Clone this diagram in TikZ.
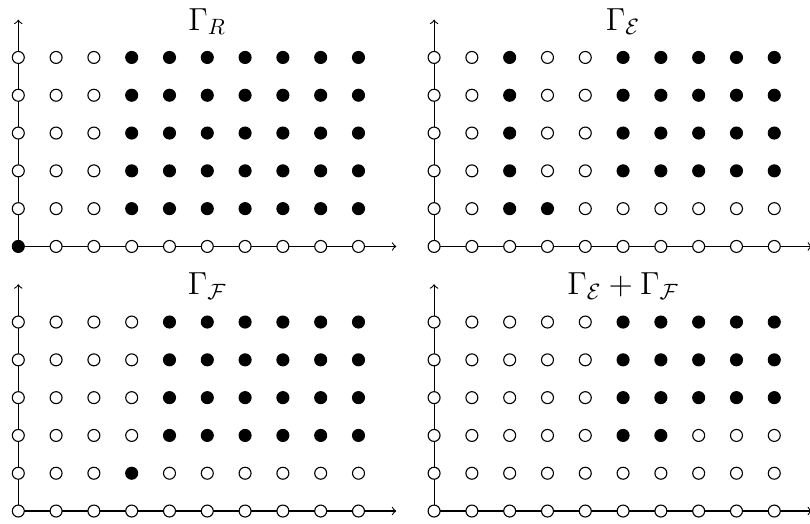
\documentclass[tikz,border=0pt]{standalone}
\begin{document}
\begin{tikzpicture}[x=0.6cm,y=0.6cm,
  dotbase/.style={circle,draw=black,line width=0.5pt,inner sep=0pt,minimum size=0.19cm},
  fdot/.style={dotbase,fill=black},
  edot/.style={dotbase,fill=white},
  axis/.style={->,line width=0.5pt},
  ttl/.style={inner sep=1pt,font=\Large}]
\useasboundingbox (-0.484,-0.317) rectangle (20.945,13.52);

% Gamma_R
\begin{scope}[shift={(0,7)}]
  \coordinate (R-o) at (0,0); \coordinate (R-xe) at (10,0); \coordinate (R-ye) at (0,6);
  \draw[axis] (R-o) -- (R-xe); \draw[axis] (R-o) -- (R-ye);
  \foreach \x in {0,...,9} \foreach \y in {0,...,5} {
    \pgfmathtruncatemacro\f{((\x==0)&&(\y==0))||((\x>=3)&&(\y>=1))}
    \ifnum\f=1 \node[fdot] (R-\x-\y) at (\x,\y) {}; \else \node[edot] (R-\x-\y) at (\x,\y) {}; \fi
  }
  \node[ttl] (R-title) at (5,5.95) {$\Gamma_R$};
\end{scope}

% Gamma_E
\begin{scope}[shift={(11,7)}]
  \coordinate (E-o) at (0,0); \coordinate (E-xe) at (10,0); \coordinate (E-ye) at (0,6);
  \draw[axis] (E-o) -- (E-xe); \draw[axis] (E-o) -- (E-ye);
  \foreach \x in {0,...,9} \foreach \y in {0,...,5} {
    \pgfmathtruncatemacro\f{((\x==2)&&(\y>=1))||((\x==3)&&(\y==1))||((\x>=5)&&(\y>=2))}
    \ifnum\f=1 \node[fdot] (E-\x-\y) at (\x,\y) {}; \else \node[edot] (E-\x-\y) at (\x,\y) {}; \fi
  }
  \node[ttl] (E-title) at (5,5.95) {$\Gamma_{\mathcal{E}}$};
\end{scope}

% Gamma_F
\begin{scope}[shift={(0,0)}]
  \coordinate (F-o) at (0,0); \coordinate (F-xe) at (10,0); \coordinate (F-ye) at (0,6);
  \draw[axis] (F-o) -- (F-xe); \draw[axis] (F-o) -- (F-ye);
  \foreach \x in {0,...,9} \foreach \y in {0,...,5} {
    \pgfmathtruncatemacro\f{((\x==3)&&(\y==1))||((\x>=4)&&(\y>=2))}
    \ifnum\f=1 \node[fdot] (F-\x-\y) at (\x,\y) {}; \else \node[edot] (F-\x-\y) at (\x,\y) {}; \fi
  }
  \node[ttl] (F-title) at (5,5.95) {$\Gamma_{\mathcal{F}}$};
\end{scope}

% Gamma_E + Gamma_F
\begin{scope}[shift={(11,0)}]
  \coordinate (S-o) at (0,0); \coordinate (S-xe) at (10,0); \coordinate (S-ye) at (0,6);
  \draw[axis] (S-o) -- (S-xe); \draw[axis] (S-o) -- (S-ye);
  \foreach \x in {0,...,9} \foreach \y in {0,...,5} {
    \pgfmathtruncatemacro\f{((\y==2)&&((\x==5)||(\x==6)))||((\x>=5)&&(\y>=3))}
    \ifnum\f=1 \node[fdot] (S-\x-\y) at (\x,\y) {}; \else \node[edot] (S-\x-\y) at (\x,\y) {}; \fi
  }
  \node[ttl] (S-title) at (5,5.95) {$\Gamma_{\mathcal{E}}+\Gamma_{\mathcal{F}}$};
\end{scope}
\end{tikzpicture}
\end{document}
